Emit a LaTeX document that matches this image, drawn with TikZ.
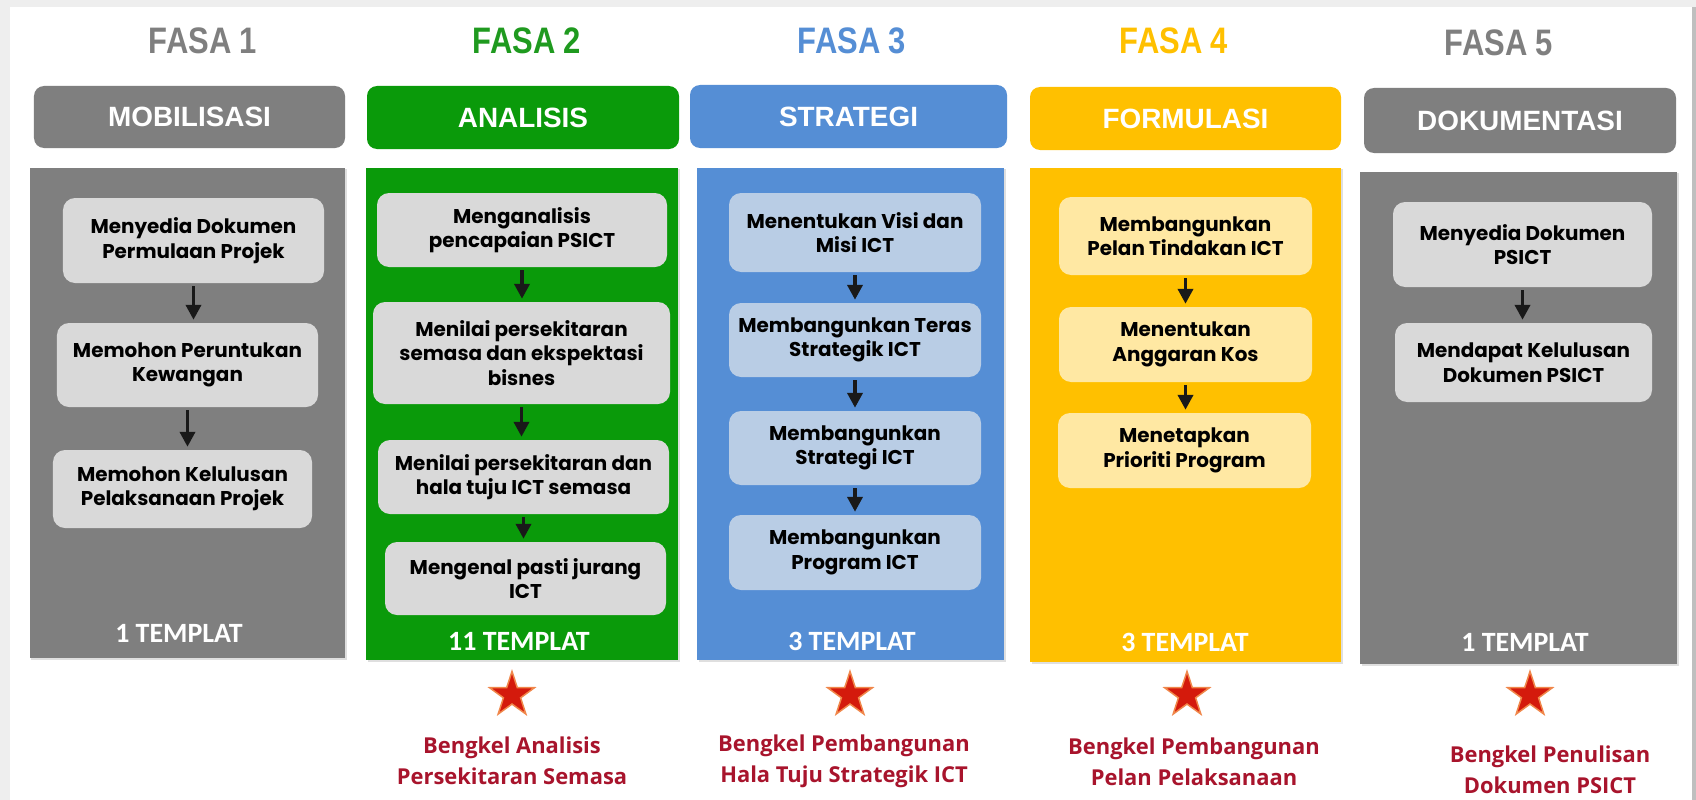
\documentclass[tikz,border=0pt]{standalone}
\usepackage{fontspec}
\usetikzlibrary{shapes.geometric,arrows.meta,shadows}
\newfontfamily\titlefont[FakeStretch=0.84]{Liberation Sans}
\newfontfamily\headfont{Liberation Sans}
\newfontfamily\boxfont{Poppins}
\newfontfamily\tplfont{Carlito}
\newfontfamily\bkfont{Open Sans}
\definecolor{cgray}{HTML}{7F7F7F}
\definecolor{cgreen}{HTML}{0A9A0A}
\definecolor{tgreen}{HTML}{1F9A1F}
\definecolor{cblue}{HTML}{558ED5}
\definecolor{cyellow}{HTML}{FFC000}
\definecolor{igray}{HTML}{D9D9D9}
\definecolor{iblue}{HTML}{B9CDE5}
\definecolor{iyellow}{HTML}{FFE8A3}
\definecolor{crimson}{HTML}{A8142C}
\definecolor{framegray}{HTML}{EEEEEE}
\definecolor{starred}{HTML}{D41A0C}
\definecolor{starglow}{HTML}{F0874A}
\tikzset{
  titletxt/.style={inner sep=0pt, font={\titlefont\bfseries\fontsize{37}{40}\selectfont}},
  headbox/.style={rectangle, rounded corners=10bp, inner sep=0pt, text=white,
     font={\headfont\bfseries\fontsize{28}{30}\selectfont}},
  bodybox/.style={rectangle, inner sep=0pt, drop shadow={shadow xshift=1.5bp, shadow yshift=-1.5bp, opacity=0.25}},
  stepbox/.style={rectangle, rounded corners=12bp, inner sep=2bp, align=center,
     font={\boxfont\bfseries\fontsize{20}{24.5}\selectfont}, text=black},
  tpl/.style={inner sep=0pt, text=white, font={\tplfont\bfseries\fontsize{28}{30}\selectfont}},
  arr/.style={draw=black!90, line width=3.8bp, -{Triangle[width=15bp,length=15bp]}, shorten >=3bp, shorten <=3bp},
  starmark/.style={star, star points=5, star point ratio=2.6, minimum size=47bp, inner sep=0pt,
     fill=starred, draw=starglow, line width=1.5bp},
  bengkel/.style={inner sep=0pt, align=center, text=crimson,
     font={\bkfont\bfseries\fontsize{22}{31}\selectfont}}
}
\begin{document}
\begin{tikzpicture}[x=1bp,y=-1bp]
\useasboundingbox (0,0) rectangle (1696,800);
\fill[framegray] (0,0) rectangle (1696,800);
\fill[white] (10,7) rectangle (1692,800);
\fill[black!25] (1692,7) rectangle (1696,800);

% titles
\node[titletxt, text=cgray]   (t1) at (203,41) {FASA 1};
\node[titletxt, text=tgreen]  (t2) at (527,41) {FASA 2};
\node[titletxt, text=cblue]   (t3) at (852,41) {FASA 3};
\node[titletxt, text=cyellow] (t4) at (1174,41) {FASA 4};
\node[titletxt, text=cgray]   (t5) at (1499,43) {FASA 5};

% headers
\node[headbox, fill=cgray,   minimum width=311bp, minimum height=62bp] (h1) at (189.5,117) {MOBILISASI};
\node[headbox, fill=cgreen,  minimum width=312bp, minimum height=63bp] (h2) at (523,117.5) {ANALISIS};
\node[headbox, fill=cblue,   minimum width=317bp, minimum height=63bp] (h3) at (848.5,116.5) {STRATEGI};
\node[headbox, fill=cyellow, minimum width=311bp, minimum height=63bp] (h4) at (1185.5,118.5) {FORMULASI};
\node[headbox, fill=cgray,   minimum width=312bp, minimum height=65bp] (h5) at (1520,120.5) {DOKUMENTASI};

% bodies
\node[bodybox, fill=cgray,   minimum width=315bp, minimum height=490bp] (p1) at (187.5,413) {};
\node[bodybox, fill=cgreen,  minimum width=312bp, minimum height=492bp] (p2) at (522,414) {};
\node[bodybox, fill=cblue,   minimum width=307bp, minimum height=492bp] (p3) at (850.5,414) {};
\node[bodybox, fill=cyellow, minimum width=311bp, minimum height=494bp] (p4) at (1185.5,415) {};
\node[bodybox, fill=cgray,   minimum width=317bp, minimum height=492bp] (p5) at (1518.5,418) {};

% column 1
\node[stepbox, fill=igray, minimum width=261bp, minimum height=85bp] (a1) at (193.5,240.5) {Menyedia Dokumen\\Permulaan Projek};
\node[stepbox, fill=igray, minimum width=261bp, minimum height=84bp] (a2) at (187.5,365) {Memohon Peruntukan\\Kewangan};
\node[stepbox, fill=igray, minimum width=259bp, minimum height=78bp] (a3) at (182.5,489) {Memohon Kelulusan\\Pelaksanaan Projek};
\draw[arr] (a1.south) -- (a1.south |- a2.north);
\draw[arr] (a2.south) -- (a2.south |- a3.north);

% column 2
\node[stepbox, fill=igray, minimum width=290bp, minimum height=74bp] (b1) at (522,230) {Menganalisis\\pencapaian PSICT};
\node[stepbox, fill=igray, minimum width=297bp, minimum height=102bp] (b2) at (521.5,353) {Menilai persekitaran\\semasa dan ekspektasi\\bisnes};
\node[stepbox, fill=igray, minimum width=291bp, minimum height=74bp] (b3) at (523.5,477) {Menilai persekitaran dan\\hala tuju ICT semasa};
\node[stepbox, fill=igray, minimum width=281bp, minimum height=73bp] (b4) at (525.5,578.5) {Mengenal pasti jurang\\ICT};
\draw[arr] (b1.south) -- (b1.south |- b2.north);
\draw[arr] (b2.south) -- (b2.south |- b3.north);
\draw[arr] (b3.south) -- (b3.south |- b4.north);

% column 3
\node[stepbox, fill=iblue, minimum width=252bp, minimum height=79bp] (c1) at (855,232.5) {Menentukan Visi dan\\Misi ICT};
\node[stepbox, fill=iblue, minimum width=252bp, minimum height=74bp] (c2) at (855,340) {Membangunkan Teras\\Strategik ICT};
\node[stepbox, fill=iblue, minimum width=252bp, minimum height=74bp] (c3) at (855,448) {Membangunkan\\Strategi ICT};
\node[stepbox, fill=iblue, minimum width=252bp, minimum height=75bp] (c4) at (855,552.5) {Membangunkan\\Program ICT};
\draw[arr] (c1.south) -- (c1.south |- c2.north);
\draw[arr] (c2.south) -- (c2.south |- c3.north);
\draw[arr] (c3.south) -- (c3.south |- c4.north);

% column 4
\node[stepbox, fill=iyellow, minimum width=253bp, minimum height=78bp] (d1) at (1185.5,236) {Membangunkan\\Pelan Tindakan ICT};
\node[stepbox, fill=iyellow, minimum width=253bp, minimum height=75bp] (d2) at (1185.5,344.5) {Menentukan\\Anggaran Kos};
\node[stepbox, fill=iyellow, minimum width=253bp, minimum height=75bp] (d3) at (1184.5,450.5) {Menetapkan\\Prioriti Program};
\draw[arr] (d1.south) -- (d1.south |- d2.north);
\draw[arr] (d2.south) -- (d2.south |- d3.north);

% column 5
\node[stepbox, fill=igray, minimum width=259bp, minimum height=85bp] (e1) at (1522.5,244.5) {Menyedia Dokumen\\PSICT};
\node[stepbox, fill=igray, minimum width=257bp, minimum height=79bp] (e2) at (1523.5,362.5) {Mendapat Kelulusan\\Dokumen PSICT};
\draw[arr] (e1.south) -- (e1.south |- e2.north);

% templates
\node[tpl] (m1) at (179,633) {1 TEMPLAT};
\node[tpl] (m2) at (519,641) {11 TEMPLAT};
\node[tpl] (m3) at (852,641) {3 TEMPLAT};
\node[tpl] (m4) at (1185,642) {3 TEMPLAT};
\node[tpl] (m5) at (1525,642) {1 TEMPLAT};

% stars
\node[starmark] (s2) at (512,695) {};
\node[starmark] (s3) at (850,695) {};
\node[starmark] (s4) at (1187,695) {};
\node[starmark] (s5) at (1530,695) {};

% workshops
\node[bengkel] (w2) at (512,761) {Bengkel Analisis\\Persekitaran Semasa};
\node[bengkel] (w3) at (844,761) {Bengkel Pembangunan\\Hala Tuju Strategik ICT};
\node[bengkel] (w4) at (1194,762) {Bengkel Pembangunan\\Pelan Pelaksanaan};
\node[bengkel] (w5) at (1550,770) {Bengkel Penulisan\\Dokumen PSICT};
\end{tikzpicture}
\end{document}
